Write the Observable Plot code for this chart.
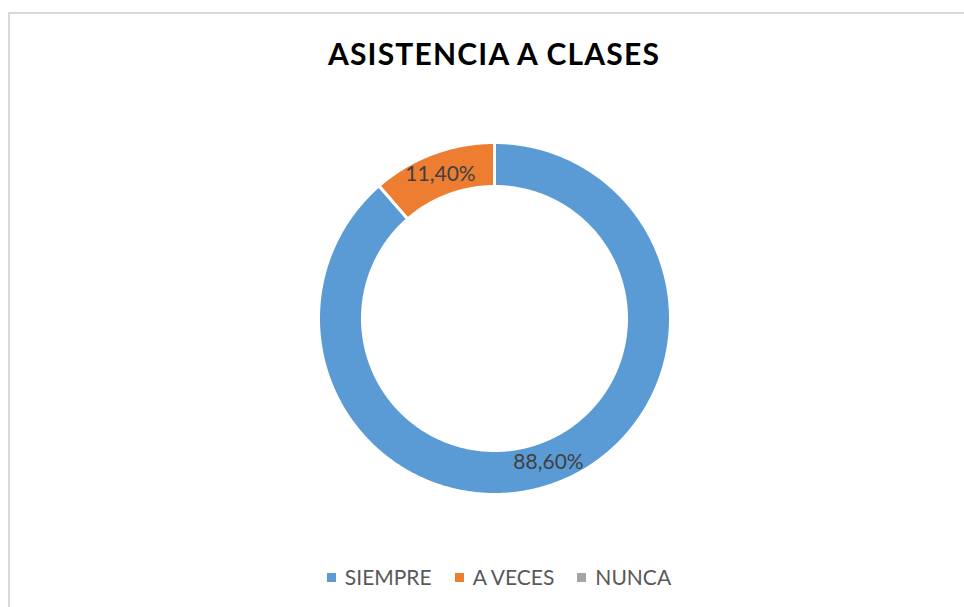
<!DOCTYPE html>
<html><head><meta charset="utf-8">
<script src="https://cdn.jsdelivr.net/npm/d3@7"></script>
<script src="https://cdn.jsdelivr.net/npm/@observablehq/plot@0.6"></script>
<style>
body{margin:0;background:#fff;}
#wrap{position:relative;width:964px;height:607px;overflow:hidden;background:#fff;font-family:Lato,"Open Sans",sans-serif;}
#frame{position:absolute;left:8px;top:12px;width:1000px;height:700px;border:2px solid #d9d9d9;box-sizing:border-box;}
#title{position:absolute;left:0;width:988px;top:35px;text-align:center;font-size:30px;line-height:36px;font-weight:bold;color:#000;letter-spacing:1.2px;}
#legend{position:absolute;left:5px;width:988px;top:563px;line-height:28px;display:flex;justify-content:center;gap:23px;font-size:21px;color:#595959;}
#legend .it{display:flex;align-items:center;gap:9px;}
#legend .sw{width:9px;height:9px;display:inline-block;}
#chart{position:absolute;left:0;top:0;}
</style></head>
<body>
<div id="wrap">
  <div id="frame"></div>
  <div id="title">ASISTENCIA A CLASES</div>
  <div id="chart"></div>
  <div id="legend"></div>
</div>
<script>
const categories = ["SIEMPRE", "A VECES", "NUNCA"];
const values = [88.6, 11.4, 0];
const colors = ["#5b9bd5", "#ed7d31", "#a5a5a5"];

const total = d3.sum(values);
const inner = 0.75;
const slices = [];
let acc = 0;
categories.forEach((c, i) => {
  const a0 = acc / total * 2 * Math.PI;
  acc += values[i];
  const a1 = acc / total * 2 * Math.PI;
  slices.push({key: c, value: values[i], a0, a1});
});
const pts = [];
for (const s of slices) {
  if (s.value <= 0) continue;
  const n = Math.max(2, Math.ceil((s.a1 - s.a0) / 0.01));
  for (let k = 0; k <= n; k++) {
    const a = s.a0 + (s.a1 - s.a0) * k / n;
    pts.push({key: s.key, x: Math.sin(a), y: Math.cos(a)});
  }
  for (let k = n; k >= 0; k--) {
    const a = s.a0 + (s.a1 - s.a0) * k / n;
    pts.push({key: s.key, x: inner * Math.sin(a), y: inner * Math.cos(a)});
  }
  pts.push({key: s.key, x: Math.sin(s.a0), y: Math.cos(s.a0)});
}
const labels = slices.filter(s => s.value > 0).map(s => {
  const m = (s.a0 + s.a1) / 2, r = (1 + inner) / 2;
  return {x: r * Math.sin(m), y: r * Math.cos(m), text: s.value.toFixed(2).replace(".", ",") + "%"};
});

const cx = 494, cy = 318, R = 176;
const plot = Plot.plot({
  width: 964, height: 607, margin: 0,
  x: {domain: [-1, 1], range: [cx - R, cx + R], axis: null},
  y: {domain: [-1, 1], range: [cy + R, cy - R], axis: null},
  color: {domain: categories, range: colors},
  style: {background: "transparent", fontFamily: "Lato, 'Open Sans', sans-serif"},
  marks: [
    Plot.line(pts, {x: "x", y: "y", z: "key", fill: "key", stroke: "white", strokeWidth: 3, curve: "linear"}),
    Plot.text(labels, {x: "x", y: "y", text: "text", fontSize: 21, fill: "#404040"})
  ]
});
document.getElementById("chart").appendChild(plot);

const lg = document.getElementById("legend");
categories.forEach((c, i) => {
  const it = document.createElement("div"); it.className = "it";
  const sw = document.createElement("span"); sw.className = "sw"; sw.style.background = colors[i];
  const t = document.createElement("span"); t.textContent = c;
  it.appendChild(sw); it.appendChild(t); lg.appendChild(it);
});
</script>
</body></html>
